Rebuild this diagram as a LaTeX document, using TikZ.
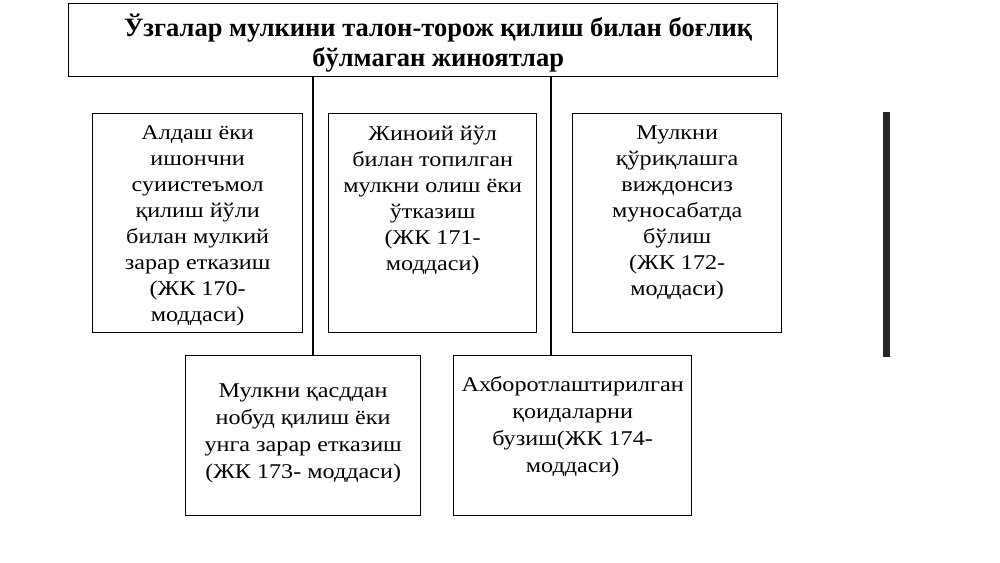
\documentclass[tikz,border=0pt]{standalone}
\usepackage{fontspec}
\setmainfont{Liberation Serif}
\newfontfamily\boxfont[FakeStretch=1.15]{Liberation Serif}
\begin{document}
\begin{tikzpicture}[x=1pt,y=-1pt,
  box/.style={draw, line width=1.3pt, inner sep=0pt, anchor=north west},
  txt/.style={align=center, font=\boxfont\fontsize{21}{26}\selectfont, inner sep=0pt, anchor=north},
  link/.style={line width=1.3pt}]
\useasboundingbox[fill=white] (0,0) rectangle (1000,562);
\node[box, minimum width=709pt, minimum height=73pt] (title) at (68,3) {};
\node[align=center, inner sep=0pt, font=\bfseries\fontsize{26.5}{30}\selectfont]
  (ttl) at ([xshift=15pt,yshift=-3pt]title.center)
  {Ўзгалар мулкини талон-торож қилиш билан боғлиқ\\бўлмаган жиноятлар};
\node[box, minimum width=210pt, minimum height=219pt] (b1) at (92,113) {};
\node[box, minimum width=208pt, minimum height=219pt] (b2) at (328,113) {};
\node[box, minimum width=209pt, minimum height=219pt] (b3) at (572,113) {};
\node[box, minimum width=235pt, minimum height=160pt] (b4) at (185,355) {};
\node[box, minimum width=238pt, minimum height=160pt] (b5) at (453,355) {};
\node[txt] (t1) at ([yshift=-12.5pt]b1.north) {Алдаш ёки\\ишончни\\суиистеъмол\\қилиш йўли\\билан мулкий\\зарар етказиш\\(ЖК 170-\\моддаси)};
\node[txt] (t2) at ([yshift=-12.5pt]b2.north) {Жиноий йўл\\билан топилган\\мулкни олиш ёки\\ўтказиш\\(ЖК 171-\\моддаси)};
\node[txt] (t3) at ([yshift=-13pt]b3.north) {Мулкни\\қўриқлашга\\виждонсиз\\муносабатда\\бўлиш\\(ЖК 172-\\моддаси)};
\node[txt, font=\boxfont\fontsize{21}{27}\selectfont] (t4) at ([yshift=-29pt]b4.north) {Мулкни қасддан\\нобуд қилиш ёки\\унга зарар етказиш\\(ЖК 173- моддаси)};
\node[txt, font=\boxfont\fontsize{21}{27}\selectfont] (t5) at ([yshift=-21.5pt]b5.north) {Ахборотлаштирилган\\қоидаларни\\бузиш(ЖК 174-\\моддаси)};
\coordinate (c1) at (313,0);
\coordinate (c2) at (551,0);
\draw[link] (title.south -| c1) -- (b4.north -| c1);
\draw[link] (title.south -| c2) -- (b5.north -| c2);
\fill[black!85] (883,112) rectangle (890,357);
\end{tikzpicture}
\end{document}
